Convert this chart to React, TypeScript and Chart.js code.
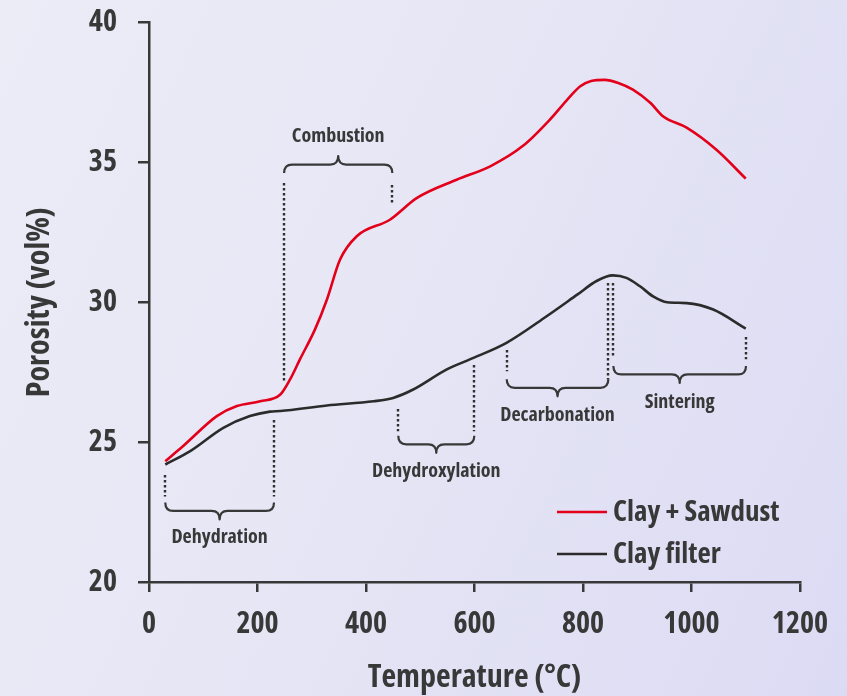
import React, { useEffect, useRef } from 'react';
import { Chart, registerables } from 'chart.js';

Chart.register(...registerables);

// ---- data ----
const seriesLabels = ['Clay + Sawdust', 'Clay filter'];

const sawdustTemp = [30, 63, 125, 162, 205, 242, 260, 278, 306, 328, 352, 383, 444, 494, 567, 629, 690, 740, 770, 795, 815, 840, 865, 892, 924, 948, 991, 1046, 1100];
const sawdustPorosity = [24.32, 24.86, 25.93, 26.29, 26.46, 26.7, 27.24, 27.95, 29.03, 30.1, 31.52, 32.36, 32.95, 33.73, 34.38, 34.86, 35.6, 36.55, 37.22, 37.72, 37.91, 37.95, 37.84, 37.6, 37.13, 36.64, 36.24, 35.45, 34.42];

const clayTemp = [30, 76, 137, 186, 223, 242, 328, 414, 450, 487, 549, 598, 659, 733, 790, 825, 855, 880, 905, 930, 955, 991, 1040, 1100];
const clayPorosity = [24.2, 24.68, 25.51, 25.93, 26.09, 26.11, 26.31, 26.46, 26.58, 26.88, 27.6, 28.01, 28.55, 29.5, 30.28, 30.76, 30.96, 30.87, 30.57, 30.2, 30.0, 29.97, 29.74, 29.06];

const xTickValues = [0, 200, 400, 600, 800, 1000, 1200];
const yTickValues = [20, 25, 30, 35, 40];

// stages (temperatures in °C, levels in vol%)
const stageNames = ['Dehydration', 'Combustion', 'Dehydroxylation', 'Decarbonation', 'Sintering'];
const stageStart = [30, 249, 459.5, 659.4, 856];
const stageEnd = [230.4, 448.5, 599.6, 846.7, 1100.5];
const stageStartTop = [23.84, 34.27, 26.2, 28.31, 30.7];
const stageStartBottom = [23.06, 27.18, 25.39, 27.53, 28.02];
const stageEndTop = [25.8, 34.2, 27.74, 30.7, 28.74];
const stageEndBottom = [23.06, 33.49, 25.39, 27.24, 27.96];
const stageBrace = [22.54, 34.92, 24.92, 26.94, 27.42];
const stageLabel = [21.6, 35.95, 23.95, 25.96, 26.43];
const stageUp = [false, true, false, false, false];

const FONT = "'Open Sans', 'DejaVu Sans Condensed', sans-serif";
const WEIGHT = 'bold condensed';
const INK = '#383838';
const RED = '#e3001b';

const stagesPlugin = {
  id: 'stages',
  afterDatasetsDraw(chart: any) {
    const ctx = chart.ctx;
    const xs = chart.scales.x;
    const ys = chart.scales.y;
    ctx.save();
    // dotted lines
    ctx.strokeStyle = '#2f2f2f';
    ctx.lineWidth = 2.4;
    ctx.lineCap = 'butt';
    ctx.setLineDash([2.4, 2.6]);
    const dotted = (xv: number, y0: number, y1: number) => {
      const px = Math.round(xs.getPixelForValue(xv));
      ctx.beginPath();
      ctx.moveTo(px, Math.round(ys.getPixelForValue(y0)));
      ctx.lineTo(px, ys.getPixelForValue(y1));
      ctx.stroke();
    };
    stageNames.forEach((_, i) => {
      dotted(stageStart[i], stageStartTop[i], stageStartBottom[i]);
      dotted(stageEnd[i], stageEndTop[i], stageEndBottom[i]);
    });
    // braces
    ctx.setLineDash([]);
    ctx.strokeStyle = INK;
    ctx.lineWidth = 2.2;
    ctx.lineCap = 'butt';
    ctx.lineJoin = 'round';
    stageNames.forEach((name, i) => {
      const x0 = xs.getPixelForValue(stageStart[i]);
      const x1 = xs.getPixelForValue(stageEnd[i]);
      const xm = (x0 + x1) / 2;
      const yb = ys.getPixelForValue(stageBrace[i]);
      const s = stageUp[i] ? 1 : -1;
      const h = 8.5;
      const r = 8;
      ctx.beginPath();
      ctx.moveTo(x0, yb + s * h);
      ctx.quadraticCurveTo(x0, yb, x0 + r, yb);
      ctx.lineTo(xm - r, yb);
      ctx.quadraticCurveTo(xm, yb, xm, yb - s * h);
      ctx.quadraticCurveTo(xm, yb, xm + r, yb);
      ctx.lineTo(x1 - r, yb);
      ctx.quadraticCurveTo(x1, yb, x1, yb + s * h);
      ctx.stroke();
      ctx.fillStyle = INK;
      ctx.font = `${WEIGHT} 20px ${FONT}`;
      ctx.textAlign = 'center';
      ctx.textBaseline = 'middle';
      ctx.fillText(name, xm, ys.getPixelForValue(stageLabel[i]));
    });
    // legend
    const colors = [RED, '#2b2b2b'];
    const lx0 = chart.chartArea.right - 243;
    const lx1 = chart.chartArea.right - 193;
    const lys = [chart.chartArea.bottom - 70, chart.chartArea.bottom - 28];
    seriesLabels.forEach((lab, i) => {
      ctx.strokeStyle = colors[i];
      ctx.lineWidth = 2.5;
      ctx.beginPath();
      ctx.moveTo(lx0, lys[i]);
      ctx.lineTo(lx1, lys[i]);
      ctx.stroke();
      ctx.fillStyle = INK;
      ctx.font = `${WEIGHT} 29px ${FONT}`;
      ctx.textAlign = 'left';
      ctx.textBaseline = 'middle';
      ctx.fillText(lab, lx1 + 6, lys[i] + 1);
    });
    ctx.restore();
  },
};

export default function App() {
  const ref = useRef<HTMLCanvasElement | null>(null);
  useEffect(() => {
    document.body.style.margin = '0';
    const canvas = ref.current;
    if (!canvas) return;
    const chart = new Chart(canvas, {
      type: 'line',
      data: {
        datasets: [
          {
            label: seriesLabels[0],
            data: sawdustTemp.map((t, i) => ({ x: t, y: sawdustPorosity[i] })),
            borderColor: RED,
            borderWidth: 2.6,
            pointRadius: 0,
            cubicInterpolationMode: 'monotone',
            fill: false,
          },
          {
            label: seriesLabels[1],
            data: clayTemp.map((t, i) => ({ x: t, y: clayPorosity[i] })),
            borderColor: '#2b2b2b',
            borderWidth: 2.6,
            pointRadius: 0,
            cubicInterpolationMode: 'monotone',
            fill: false,
          },
        ],
      },
      options: {
        responsive: false,
        animation: false,
        devicePixelRatio: 1,
        layout: { padding: { top: 22.5, right: 47, left: 0, bottom: 0 } },
        plugins: { legend: { display: false }, tooltip: { enabled: false } },
        scales: {
          x: {
            type: 'linear',
            min: 0,
            max: 1200,
            afterFit: (s: any) => { s.height = 114; s.paddingLeft = 0; s.paddingRight = 0; },
            afterBuildTicks: (s: any) => { s.ticks = xTickValues.map((v) => ({ value: v })); },
            grid: { display: true, drawOnChartArea: false, drawTicks: true, tickLength: 10, color: INK, lineWidth: 2.5 },
            border: { display: true, color: INK, width: 2.5 },
            ticks: { color: INK, padding: 14, font: { family: FONT, size: 30, weight: WEIGHT }, maxRotation: 0, callback: (v: any) => String(v) },
            title: { display: true, text: 'Temperature (°C)', color: INK, padding: { top: 0, bottom: -1 }, font: { family: FONT, size: 32, weight: WEIGHT, lineHeight: 1.2 } },
          },
          y: {
            type: 'linear',
            min: 20,
            max: 40,
            afterFit: (s: any) => { s.width = 149; s.paddingTop = 0; s.paddingBottom = 0; },
            afterBuildTicks: (s: any) => { s.ticks = yTickValues.map((v) => ({ value: v })); },
            grid: { display: true, drawOnChartArea: false, drawTicks: true, tickLength: 11, color: INK, lineWidth: 2.5 },
            border: { display: true, color: INK, width: 2.5 },
            ticks: { color: INK, padding: 21, font: { family: FONT, size: 30, weight: WEIGHT }, callback: (v: any) => String(v) },
            title: { display: true, text: 'Porosity (vol%)', color: INK, padding: { top: 21, bottom: 0 }, font: { family: FONT, size: 32, weight: WEIGHT, lineHeight: 1.2 } },
          },
        },
      },
      plugins: [stagesPlugin],
    } as any);
    return () => chart.destroy();
  }, []);
  return (
    <div
      style={{
        width: 847,
        height: 696,
        background: 'linear-gradient(115deg, #ececf7 0%, #e6e6f5 45%, #dcdbf4 100%)',
      }}
    >
      <canvas ref={ref} width={847} height={696} style={{ display: 'block' }} />
    </div>
  );
}
